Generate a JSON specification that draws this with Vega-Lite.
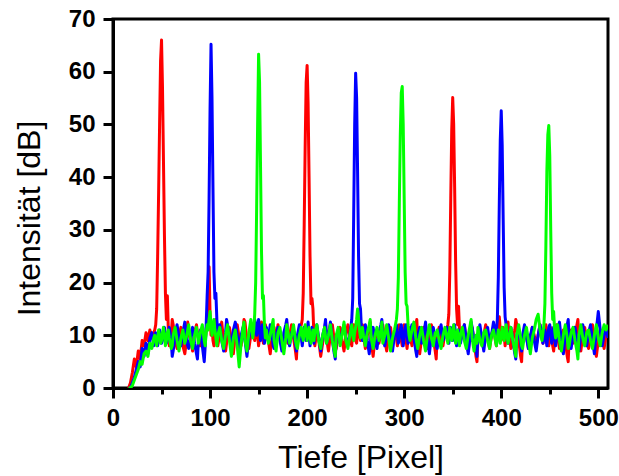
{
"$schema":"https://vega.github.io/schema/vega-lite/v6.json",
"width":495,"height":369,
"autosize":{"type":"none"},
"padding":{"left":113,"top":19,"right":11,"bottom":88},
"background":"white",
"config":{"view":{"stroke":"black","strokeWidth":3},"axis":{"grid":false}},
"data":{"values":[
{"x":16,"r":0,"b":0,"g":0},{"x":18,"r":1,"b":0,"g":0},{"x":20,"r":3,"b":1,"g":0.5},{"x":22,"r":5.5,"b":2,"g":1.5},{"x":24,"r":4,"b":3.5,"g":2.5},{"x":26,"r":7,"b":5,"g":3.5},{"x":28,"r":5.5,"b":4,"g":5},{"x":30,"r":9,"b":7.5,"g":4.5},{"x":32,"r":8,"b":6,"g":6.5},{"x":34,"r":10.5,"b":8.5,"g":7},{"x":36,"r":9,"b":6.5,"g":6},{"x":38,"r":11,"b":9.5,"g":8.5},{"x":40,"r":9.5,"b":10.5,"g":7.5},{"x":42,"r":10.5,"b":8,"g":9.5},
{"x":43,"r":11,"b":9,"g":10},{"x":44,"r":12,"b":10.5,"g":9},{"x":45,"r":15,"b":9,"g":8},{"x":46,"r":25,"b":8,"g":9.5},{"x":47,"r":37,"b":9.5,"g":11},{"x":48,"r":50,"b":11,"g":10},{"x":49,"r":62,"b":10,"g":8.5},{"x":50,"r":66,"b":8.5,"g":9},{"x":51,"r":57,"b":9,"g":10.5},{"x":52,"r":43,"b":10.5,"g":11.5},{"x":53,"r":29,"b":11.5,"g":10},{"x":54,"r":18,"b":10,"g":8},{"x":55,"r":13,"b":8.5,"g":9},{"x":56,"r":17.5,"b":9,"g":10.5},{"x":57,"r":11,"b":10.5,"g":11},
{"x":58,"r":8,"b":11.5,"g":9.5},{"x":60,"r":10,"b":9,"g":7.5},{"x":61,"r":13,"b":6,"g":8},{"x":62,"r":12,"b":7,"g":10},{"x":64,"r":9,"b":10,"g":11.5},{"x":66,"r":7.5,"b":12,"g":9},{"x":68,"r":10,"b":9.5,"g":7},{"x":70,"r":11.5,"b":8,"g":9.5},{"x":72,"r":8,"b":10.5,"g":11},{"x":74,"r":6.5,"b":12.5,"g":8.5},{"x":76,"r":9.5,"b":9,"g":10},{"x":77,"r":12.5,"b":8,"g":11},{"x":78,"r":11,"b":7.5,"g":12},{"x":80,"r":9,"b":10,"g":9},{"x":82,"r":7,"b":11.5,"g":7.5},{"x":84,"r":10.5,"b":8.5,"g":10},{"x":86,"r":12,"b":6.5,"g":11.5},{"x":87,"r":10.5,"b":5.5,"g":10},{"x":88,"r":9.5,"b":9,"g":8.5},{"x":90,"r":8,"b":11,"g":10.5},{"x":92,"r":10.5,"b":8,"g":12},
{"x":94,"r":7,"b":5,"g":9},{"x":95,"r":9,"b":8,"g":8},{"x":96,"r":11,"b":12,"g":10.5},{"x":97,"r":13,"b":17.5,"g":12},{"x":98,"r":18,"b":22,"g":11},{"x":99,"r":23,"b":36,"g":13},{"x":100,"r":14,"b":53,"g":14.5},{"x":101,"r":10,"b":65.2,"g":12},{"x":102,"r":12,"b":55,"g":10},{"x":103,"r":9,"b":38,"g":11.5},{"x":104,"r":8,"b":22,"g":13},{"x":105,"r":11,"b":17,"g":11},{"x":106,"r":13,"b":18,"g":9.5},{"x":107,"r":10,"b":13,"g":8},{"x":108,"r":8,"b":10,"g":10},
{"x":110,"r":10.5,"b":12,"g":11.5},{"x":112,"r":12.5,"b":9,"g":9},{"x":114,"r":9,"b":7,"g":7.5},{"x":116,"r":7,"b":10.5,"g":10},{"x":117,"r":8.5,"b":13,"g":11},{"x":118,"r":10,"b":12,"g":12},{"x":120,"r":11.5,"b":9.5,"g":9},{"x":122,"r":9,"b":8,"g":6},{"x":124,"r":6.5,"b":11,"g":9.5},{"x":126,"r":10,"b":12.5,"g":11},{"x":128,"r":12,"b":10,"g":8},{"x":130,"r":9.5,"b":7.5,"g":4},{"x":132,"r":8,"b":10,"g":8.5},{"x":134,"r":11,"b":11.5,"g":11.5},{"x":135,"r":13,"b":10,"g":12.5},{"x":136,"r":12.5,"b":9,"g":9},{"x":138,"r":9,"b":6,"g":7},{"x":140,"r":7.5,"b":9.5,"g":10.5},{"x":142,"r":10,"b":12,"g":13},
{"x":144,"r":11.5,"b":10,"g":9.5},{"x":145,"r":10,"b":11,"g":11},{"x":146,"r":9,"b":13,"g":14},{"x":147,"r":11,"b":12,"g":20},{"x":148,"r":12,"b":10,"g":34},{"x":149,"r":10,"b":11.5,"g":50},{"x":150,"r":8,"b":13,"g":63.3},{"x":151,"r":9.5,"b":11,"g":58},{"x":152,"r":11,"b":9,"g":42},{"x":153,"r":12.5,"b":10.5,"g":26},{"x":154,"r":10,"b":12,"g":17},{"x":155,"r":8.5,"b":10,"g":17.5},{"x":156,"r":10,"b":8.5,"g":12},{"x":157,"r":12,"b":10,"g":9.5},{"x":158,"r":11,"b":11.5,"g":11},
{"x":160,"r":9,"b":9,"g":8.5},{"x":162,"r":6.5,"b":12,"g":10},{"x":164,"r":10,"b":10,"g":12},{"x":165,"r":8.5,"b":8,"g":13},{"x":166,"r":11.5,"b":7.5,"g":9},{"x":168,"r":9,"b":10,"g":7},{"x":170,"r":12,"b":11.5,"g":10.5},{"x":172,"r":10,"b":9,"g":11.5},{"x":174,"r":7.5,"b":7,"g":9},{"x":176,"r":9,"b":10.5,"g":6.5},{"x":178,"r":11,"b":12,"g":9.5},{"x":179,"r":12.5,"b":13,"g":12},{"x":180,"r":8.5,"b":9.5,"g":11},{"x":182,"r":10,"b":8,"g":8.5},{"x":184,"r":12,"b":10.5,"g":10},{"x":186,"r":9.5,"b":11,"g":12},{"x":188,"r":7,"b":8.5,"g":9},{"x":189,"r":5.5,"b":7,"g":8},{"x":190,"r":9.5,"b":10,"g":7.5},{"x":192,"r":11,"b":12,"g":10},
{"x":194,"r":12,"b":9.5,"g":11.5},{"x":195,"r":13,"b":8,"g":10},{"x":196,"r":18,"b":10,"g":9},{"x":197,"r":31,"b":11.5,"g":10.5},{"x":198,"r":46,"b":10,"g":12},{"x":199,"r":58,"b":9,"g":11},{"x":200,"r":61.2,"b":11,"g":9},{"x":201,"r":54,"b":12.5,"g":10},{"x":202,"r":40,"b":10,"g":11.5},{"x":203,"r":25,"b":8,"g":10},{"x":204,"r":16,"b":10,"g":8.5},{"x":205,"r":17,"b":11.5,"g":10},{"x":206,"r":15,"b":10,"g":11},{"x":207,"r":10,"b":8.5,"g":9},{"x":208,"r":8,"b":10,"g":10.5},
{"x":210,"r":11,"b":12,"g":12},{"x":212,"r":9,"b":9.5,"g":9},{"x":214,"r":6,"b":7,"g":7.5},{"x":216,"r":8.5,"b":10,"g":10},{"x":218,"r":11,"b":11.5,"g":11.5},{"x":219,"r":12.5,"b":13,"g":9.5},{"x":220,"r":9.5,"b":8.5,"g":8.5},{"x":222,"r":7,"b":10,"g":10},{"x":224,"r":10,"b":12.5,"g":12},{"x":226,"r":12,"b":9,"g":9},{"x":228,"r":9,"b":6.5,"g":7},{"x":229,"r":7,"b":5.5,"g":6},{"x":230,"r":7.5,"b":9.5,"g":10},{"x":232,"r":10,"b":11,"g":11.5},{"x":234,"r":11.5,"b":8.5,"g":8},{"x":236,"r":9,"b":10.5,"g":10},{"x":238,"r":7,"b":12,"g":12.5},{"x":240,"r":10,"b":9.5,"g":9},{"x":242,"r":12,"b":8,"g":7.5},
{"x":244,"r":10,"b":10,"g":10},{"x":245,"r":9,"b":11.5,"g":11},{"x":246,"r":8,"b":13,"g":12},{"x":247,"r":10.5,"b":17,"g":10},{"x":248,"r":12,"b":33,"g":9},{"x":249,"r":11,"b":50,"g":10.5},{"x":250,"r":9,"b":59.7,"g":11.5},{"x":251,"r":8.5,"b":55,"g":13},{"x":252,"r":11,"b":41,"g":15},{"x":253,"r":12,"b":25,"g":13},{"x":254,"r":10,"b":16,"g":11},{"x":255,"r":9,"b":15,"g":9.5},{"x":256,"r":10.5,"b":11,"g":10},{"x":257,"r":12,"b":9,"g":11.5},{"x":258,"r":10,"b":10.5,"g":10},
{"x":260,"r":7.5,"b":12,"g":8},{"x":262,"r":10,"b":9,"g":10.5},{"x":264,"r":11.5,"b":6.5,"g":12},{"x":265,"r":12.5,"b":8,"g":13},{"x":266,"r":9,"b":10,"g":9.5},{"x":268,"r":6,"b":11.5,"g":7.5},{"x":270,"r":9.5,"b":9,"g":10},{"x":272,"r":11,"b":7.5,"g":11.5},{"x":274,"r":8.5,"b":10.5,"g":9},{"x":276,"r":10.5,"b":12,"g":11},{"x":277,"r":10,"b":13,"g":12.5},{"x":278,"r":12,"b":9.5,"g":8.5},{"x":280,"r":9,"b":8,"g":10},{"x":282,"r":7,"b":10,"g":12},{"x":284,"r":10,"b":12,"g":9.5},{"x":286,"r":11.5,"b":9.5,"g":7},{"x":288,"r":8.5,"b":7,"g":9.5},{"x":290,"r":10,"b":10,"g":11},
{"x":291,"r":11,"b":11,"g":12},{"x":292,"r":9.5,"b":12,"g":13},{"x":293,"r":8,"b":10,"g":15},{"x":294,"r":10,"b":8.5,"g":21},{"x":295,"r":12,"b":9.5,"g":35},{"x":296,"r":10.5,"b":11,"g":48},{"x":297,"r":9,"b":12,"g":56},{"x":298,"r":8,"b":10,"g":57.2},{"x":299,"r":10,"b":8,"g":50},{"x":300,"r":12,"b":9.5,"g":36},{"x":301,"r":11,"b":11.5,"g":22},{"x":302,"r":9,"b":12,"g":16},{"x":303,"r":7.5,"b":10,"g":15.5},{"x":304,"r":9.5,"b":8.5,"g":12},{"x":305,"r":11.5,"b":9,"g":10},
{"x":306,"r":10,"b":10.5,"g":9},{"x":308,"r":8,"b":12,"g":11},{"x":310,"r":10.5,"b":9.5,"g":12.5},{"x":312,"r":12,"b":7,"g":9.5},{"x":313,"r":13,"b":6,"g":8.5},{"x":314,"r":9,"b":10,"g":7.5},{"x":316,"r":6.5,"b":11.5,"g":10},{"x":318,"r":9.5,"b":8.5,"g":11.5},{"x":320,"r":11.5,"b":10,"g":9},{"x":322,"r":9,"b":12.5,"g":7},{"x":324,"r":7.5,"b":9,"g":10},{"x":326,"r":10,"b":6.5,"g":12},{"x":328,"r":12,"b":10,"g":9.5},{"x":330,"r":9.5,"b":11.5,"g":8},{"x":332,"r":7,"b":9,"g":10.5},{"x":333,"r":5.5,"b":8,"g":10},{"x":334,"r":10,"b":7.5,"g":11},{"x":336,"r":11.5,"b":10.5,"g":9},{"x":338,"r":9,"b":12,"g":7.5},{"x":340,"r":8,"b":9,"g":10},{"x":342,"r":10.5,"b":10,"g":11.5},
{"x":344,"r":11,"b":11.5,"g":9.5},{"x":345,"r":12,"b":10,"g":8.5},{"x":346,"r":14,"b":8.5,"g":10},{"x":347,"r":22,"b":10,"g":11.5},{"x":348,"r":36,"b":11.5,"g":10},{"x":349,"r":49,"b":10,"g":9},{"x":350,"r":55.1,"b":9,"g":10.5},{"x":351,"r":50,"b":10.5,"g":12},{"x":352,"r":38,"b":12,"g":10},{"x":353,"r":24,"b":10,"g":8.5},{"x":354,"r":15,"b":8,"g":10},{"x":355,"r":12,"b":9.5,"g":11},{"x":356,"r":15.5,"b":11,"g":9.5},{"x":357,"r":11,"b":10,"g":8},{"x":358,"r":9,"b":8.5,"g":10},
{"x":360,"r":10.5,"b":10.5,"g":11.5},{"x":362,"r":12,"b":12,"g":9},{"x":364,"r":9,"b":9,"g":7.5},{"x":366,"r":7,"b":6.5,"g":10},{"x":368,"r":10,"b":10,"g":12},{"x":369,"r":9,"b":12.5,"g":13},{"x":370,"r":11.5,"b":11.5,"g":9.5},{"x":372,"r":9,"b":9,"g":7},{"x":374,"r":6,"b":7.5,"g":10},{"x":375,"r":5,"b":6,"g":8.5},{"x":376,"r":9.5,"b":10,"g":11.5},{"x":378,"r":11,"b":12,"g":9},{"x":380,"r":8.5,"b":9.5,"g":8},{"x":382,"r":10,"b":7,"g":10.5},{"x":384,"r":12,"b":10,"g":11},{"x":386,"r":9.5,"b":11.5,"g":9},{"x":388,"r":7.5,"b":8.5,"g":7.5},{"x":390,"r":10,"b":10,"g":10},{"x":392,"r":11.5,"b":12.5,"g":11},
{"x":394,"r":9,"b":10,"g":9},{"x":395,"r":8,"b":11,"g":8},{"x":396,"r":10,"b":13,"g":9.5},{"x":397,"r":12,"b":21,"g":11},{"x":398,"r":13.5,"b":35,"g":10},{"x":399,"r":11,"b":47,"g":8.5},{"x":400,"r":9,"b":52.6,"g":10},{"x":401,"r":10,"b":46,"g":11.5},{"x":402,"r":11.5,"b":32,"g":10},{"x":403,"r":10,"b":19,"g":9},{"x":404,"r":8,"b":13.5,"g":10.5},{"x":405,"r":9.5,"b":12,"g":12},{"x":406,"r":11,"b":10,"g":10},{"x":407,"r":12.5,"b":8.5,"g":8.5},{"x":408,"r":10,"b":10,"g":9.5},
{"x":410,"r":7.5,"b":11.5,"g":11.5},{"x":412,"r":9,"b":9,"g":9},{"x":414,"r":11,"b":6.5,"g":7},{"x":415,"r":13,"b":5.5,"g":6},{"x":416,"r":12,"b":10,"g":10},{"x":418,"r":9,"b":11,"g":12},{"x":420,"r":6,"b":8.5,"g":9.5},{"x":421,"r":5,"b":7,"g":8},{"x":422,"r":9.5,"b":10,"g":7.5},{"x":424,"r":11,"b":12,"g":10},{"x":426,"r":10,"b":9.5,"g":11.5},{"x":428,"r":7.5,"b":7.5,"g":9},{"x":430,"r":9,"b":10,"g":6.5},{"x":432,"r":11.5,"b":11.5,"g":9.5},{"x":434,"r":10,"b":9,"g":11},{"x":436,"r":8,"b":7,"g":13},{"x":438,"r":10,"b":10,"g":14},{"x":440,"r":12,"b":12,"g":11},{"x":442,"r":9.5,"b":9.5,"g":9},
{"x":443,"r":8.5,"b":8.5,"g":10.5},{"x":444,"r":10,"b":10,"g":12},{"x":445,"r":11.5,"b":11,"g":16},{"x":446,"r":12,"b":9.5,"g":27},{"x":447,"r":10,"b":8,"g":41},{"x":448,"r":9,"b":10,"g":48},{"x":449,"r":8,"b":11.5,"g":49.8},{"x":450,"r":10,"b":12,"g":44},{"x":451,"r":11.5,"b":10,"g":30},{"x":452,"r":10,"b":8.5,"g":18},{"x":453,"r":8,"b":10,"g":13},{"x":454,"r":7,"b":11.5,"g":14.5},{"x":455,"r":9,"b":10,"g":11},{"x":456,"r":10.5,"b":8,"g":9.5},{"x":457,"r":12,"b":9.5,"g":10.5},
{"x":458,"r":10,"b":11,"g":12},{"x":460,"r":7.5,"b":12.5,"g":9},{"x":462,"r":9.5,"b":9,"g":7},{"x":464,"r":11,"b":6.5,"g":10},{"x":466,"r":9,"b":10,"g":12},{"x":468,"r":6,"b":12,"g":9.5},{"x":469,"r":5,"b":13,"g":7.5},{"x":470,"r":9.5,"b":9.5,"g":8},{"x":472,"r":11,"b":7.5,"g":10.5},{"x":474,"r":8.5,"b":10,"g":11.5},{"x":476,"r":10,"b":11.5,"g":9},{"x":478,"r":12,"b":9,"g":7},{"x":479,"r":13,"b":8,"g":5.5},{"x":480,"r":9,"b":7,"g":10},{"x":482,"r":7,"b":10,"g":12},{"x":484,"r":10,"b":12,"g":9.5},{"x":486,"r":11.5,"b":9.5,"g":8},{"x":488,"r":9,"b":8,"g":10.5},{"x":490,"r":7.5,"b":10.5,"g":11},{"x":492,"r":10,"b":12,"g":9},{"x":494,"r":12,"b":9,"g":7.5},{"x":496,"r":9,"b":6.5,"g":10},{"x":498,"r":6,"b":11,"g":12},{"x":500,"r":9,"b":14.5,"g":9.5},{"x":502,"r":11,"b":11,"g":8},{"x":504,"r":10,"b":8,"g":10.5},{"x":506,"r":7.5,"b":10,"g":12},{"x":508,"r":10,"b":11.5,"g":11},{"x":510,"r":11,"b":9.5,"g":12}
]},
"layer":[
{"mark":{"type":"line","color":"#ff0000","strokeWidth":3,"strokeJoin":"round","clip":true},
 "encoding":{
  "x":{"field":"x","type":"quantitative","scale":{"domain":[0,510],"nice":false,"zero":false},
   "axis":{"values":[0,50,100,150,200,250,300,350,400,450,500],"labelExpr":"datum.value % 100 === 0 ? datum.label : ''",
    "title":"Tiefe [Pixel]","titleFont":"Liberation Sans","titleFontSize":32,"titleFontWeight":"normal","titleColor":"black","titleX":247.5,"titleY":79,"titleBaseline":"alphabetic","titleAnchor":"middle",
    "labelFont":"Liberation Sans","labelFontSize":24,"labelFontWeight":"bold","labelColor":"black","labelPadding":8,"labelFlush":false,"labelOverlap":false,
    "domainColor":"black","domainWidth":3,"tickColor":"black","tickWidth":3,
    "tickSize":{"condition":{"test":"datum.value % 100 === 0","value":10},"value":6}}},
  "y":{"field":"r","type":"quantitative","scale":{"domain":[0,70],"nice":false,"zero":false},
   "axis":{"values":[0,5,10,15,20,25,30,35,40,45,50,55,60,65,70],"labelExpr":"datum.value % 10 === 0 ? datum.label : ''",
    "title":"Intensität [dB]","titleFont":"Liberation Sans","titleFontSize":32,"titleFontWeight":"normal","titleColor":"black","titleX":-84,"titleY":199,"titleAngle":-90,"titleBaseline":"middle","titleAnchor":"middle",
    "labelFont":"Liberation Sans","labelFontSize":24,"labelFontWeight":"bold","labelColor":"black","labelPadding":8,"labelFlush":false,"labelOverlap":false,
    "domainColor":"black","domainWidth":3,"tickColor":"black","tickWidth":3,
    "tickSize":{"condition":{"test":"datum.value % 10 === 0","value":10},"value":6}}}}},
{"mark":{"type":"line","color":"#0000ff","strokeWidth":3,"strokeJoin":"round","clip":true},
 "encoding":{"x":{"field":"x","type":"quantitative"},"y":{"field":"b","type":"quantitative"}}},
{"mark":{"type":"line","color":"#00ff00","strokeWidth":3,"strokeJoin":"round","clip":true},
 "encoding":{"x":{"field":"x","type":"quantitative"},"y":{"field":"g","type":"quantitative"}}}
]
}
